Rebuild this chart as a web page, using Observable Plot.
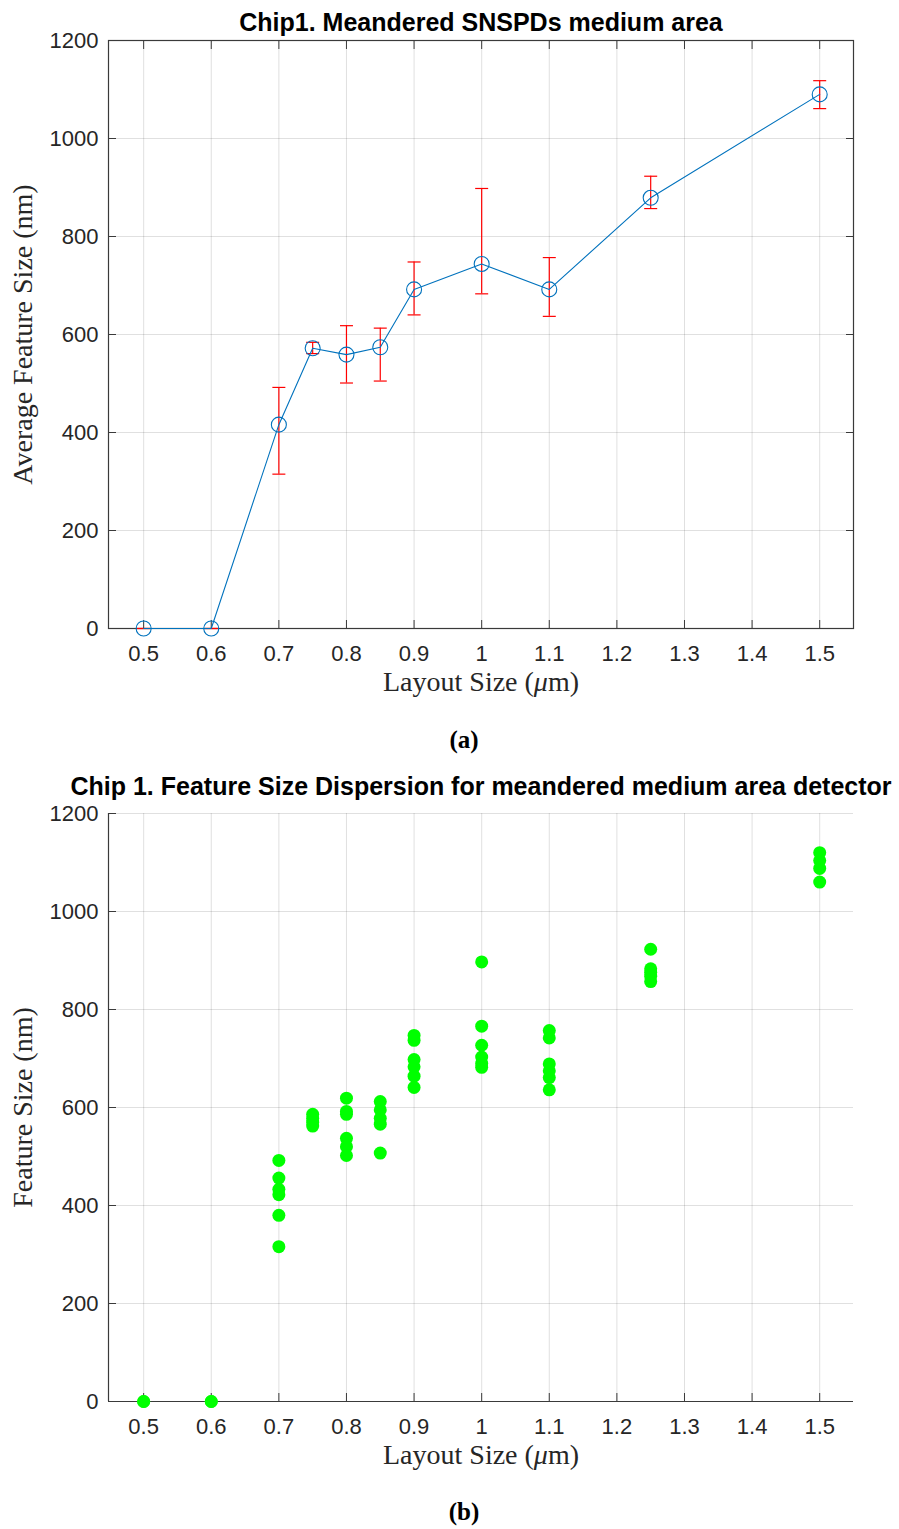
<!DOCTYPE html>
<html>
<head>
<meta charset="utf-8">
<script src="https://cdn.jsdelivr.net/npm/d3@7"></script>
<script src="https://cdn.jsdelivr.net/npm/@observablehq/plot@0.6"></script>
<style>
  body { margin: 0; background: #fff; width: 899px; height: 1529px; position: relative; overflow: hidden; }
  .chart { position: absolute; left: 0; }
  .cap { position: absolute; left: 464px; transform: translateX(-50%); font-family: "Liberation Serif", serif; font-weight: bold; font-size: 25px; color: #000; line-height: 1; }
  svg g[aria-label$="tick label"] text { font-family: "Liberation Sans", Arial, sans-serif; font-size: 22px; fill: #262626; }
  svg g[aria-label$="axis label"] text { font-family: "Liberation Serif", serif; font-size: 28px; fill: #262626; }
  svg g.title text { font-family: "Liberation Sans", Arial, sans-serif; font-weight: bold; font-size: 25px; }
</style>
</head>
<body>
<div id="a" class="chart" style="top:0px"></div>
<div class="cap" style="top:727px">(a)</div>
<div id="b" class="chart" style="top:760px"></div>
<div class="cap" style="top:1499px">(b)</div>
<script>
// ---- data ----
const layoutSizes = [0.5, 0.6, 0.7, 0.75, 0.8, 0.85, 0.9, 1.0, 1.1, 1.25, 1.5];
const avgFeatureSize = [0, 0, 416, 572, 559, 574, 692, 744, 692, 879, 1090];
const errLower = [0, 0, 315, 561, 501, 505, 640, 683, 637, 857, 1061];
const errUpper = [0, 0, 492, 584, 618, 613, 748, 898, 757, 923, 1118];
const dispersionValues = [
  [0, 0],
  [0, 0],
  [492, 456, 433, 422, 380, 316],
  [586, 578, 570, 562],
  [619, 592, 586, 537, 520, 502],
  [612, 595, 578, 566, 507],
  [747, 737, 698, 683, 664, 641],
  [897, 766, 727, 703, 690, 682],
  [757, 742, 689, 675, 661, 636],
  [923, 883, 876, 868, 857],
  [1120, 1104, 1088, 1060]
];
const xTicks = [0.5, 0.6, 0.7, 0.8, 0.9, 1, 1.1, 1.2, 1.3, 1.4, 1.5];
const yTicks = [0, 200, 400, 600, 800, 1000, 1200];
const xDomain = [0.448, 1.55];
const yDomain = [0, 1200];
const titleA = "Chip1. Meandered SNSPDs medium area";
const titleB = "Chip 1. Feature Size Dispersion for meandered medium area detector";
const xLabel = "Layout Size (μm)";
const yLabelA = "Average Feature Size (nm)";
const yLabelB = "Feature Size (nm)";

const rowsA = layoutSizes.map((x, i) => ({x, mean: avgFeatureSize[i], lo: errLower[i], hi: errUpper[i]}));
const rowsB = layoutSizes.flatMap((x, i) => dispersionValues[i].map(v => ({x, v})));

const capSymbol = {draw(ctx, size) { const r = Math.sqrt(size / Math.PI); ctx.moveTo(-r, 0); ctx.lineTo(r, 0); }};
const gridStyle = {stroke: "#262626", strokeOpacity: 0.14, strokeWidth: 1};
const axisColor = "#3a3a3a";

function fixXLabel(svg) {
  const t = svg.querySelector('g[aria-label="x-axis label"] text');
  if (!t) return;
  const ns = "http://www.w3.org/2000/svg";
  t.textContent = "";
  const parts = [["Layout Size (", null], ["μ", "italic"], ["m)", null]];
  for (const [s, st] of parts) {
    const ts = document.createElementNS(ns, "tspan");
    ts.textContent = s;
    if (st) ts.setAttribute("font-style", st);
    t.appendChild(ts);
  }
}

const chartA = Plot.plot({
  width: 899, height: 705,
  marginLeft: 108, marginRight: 46, marginTop: 40, marginBottom: 77,
  x: {domain: xDomain, label: null},
  y: {domain: yDomain, label: null},
  marks: [
    Plot.gridX(xTicks, gridStyle),
    Plot.gridY(yTicks, gridStyle),
    Plot.axisX(xTicks, {anchor: "bottom", tickSize: -8, tickPadding: 25, stroke: axisColor, tickFormat: d => String(d), label: xLabel, labelAnchor: "center", labelOffset: 62, labelArrow: "none"}),
    Plot.axisX(xTicks, {anchor: "top", tickSize: -8, stroke: axisColor, tickFormat: () => "", label: null}),
    Plot.axisY(yTicks, {anchor: "left", tickSize: -8, tickPadding: 18, stroke: axisColor, tickFormat: d => String(d), label: yLabelA, labelAnchor: "center", labelOffset: 96, labelArrow: "none"}),
    Plot.axisY(yTicks, {anchor: "right", tickSize: -8, stroke: axisColor, tickFormat: () => "", label: null}),
    Plot.frame({stroke: axisColor, strokeWidth: 1.2}),
    Plot.ruleX(rowsA, {x: "x", y1: "lo", y2: "hi", stroke: "#ff0000", strokeWidth: 1.2}),
    Plot.dot(rowsA, {x: "x", y: "lo", symbol: capSymbol, r: 6.5, stroke: "#ff0000", strokeWidth: 1.2}),
    Plot.dot(rowsA, {x: "x", y: "hi", symbol: capSymbol, r: 6.5, stroke: "#ff0000", strokeWidth: 1.2}),
    Plot.line(rowsA, {x: "x", y: "mean", stroke: "#0072BD", strokeWidth: 1.1}),
    Plot.dot(rowsA, {x: "x", y: "mean", r: 7.5, stroke: "#0072BD", fill: "none", strokeWidth: 1.1}),
    Plot.text([titleA], {text: d => d, frameAnchor: "top", dy: -27, fill: "#000", className: "title"})
  ]
});
fixXLabel(chartA);
document.getElementById("a").appendChild(chartA);

const chartB = Plot.plot({
  width: 899, height: 720,
  marginLeft: 108, marginRight: 46, marginTop: 53, marginBottom: 79,
  x: {domain: xDomain, label: null},
  y: {domain: yDomain, label: null},
  marks: [
    Plot.gridX(xTicks, gridStyle),
    Plot.gridY(yTicks, gridStyle),
    Plot.axisX(xTicks, {anchor: "bottom", tickSize: -8, tickPadding: 25, stroke: axisColor, tickFormat: d => String(d), label: xLabel, labelAnchor: "center", labelOffset: 62, labelArrow: "none"}),
    Plot.axisY(yTicks, {anchor: "left", tickSize: -8, tickPadding: 18, stroke: axisColor, tickFormat: d => String(d), label: yLabelB, labelAnchor: "center", labelOffset: 96, labelArrow: "none"}),
    Plot.ruleX([xDomain[0]], {stroke: axisColor, strokeWidth: 1.2}),
    Plot.ruleY([yDomain[0]], {stroke: axisColor, strokeWidth: 1.2}),
    Plot.dot(rowsB, {x: "x", y: "v", r: 6.5, fill: "#00ff00", stroke: "none"}),
    Plot.text([titleB], {text: d => d, frameAnchor: "top", dy: -36, fill: "#000", className: "title"})
  ]
});
fixXLabel(chartB);
document.getElementById("b").appendChild(chartB);
</script>
</body>
</html>
